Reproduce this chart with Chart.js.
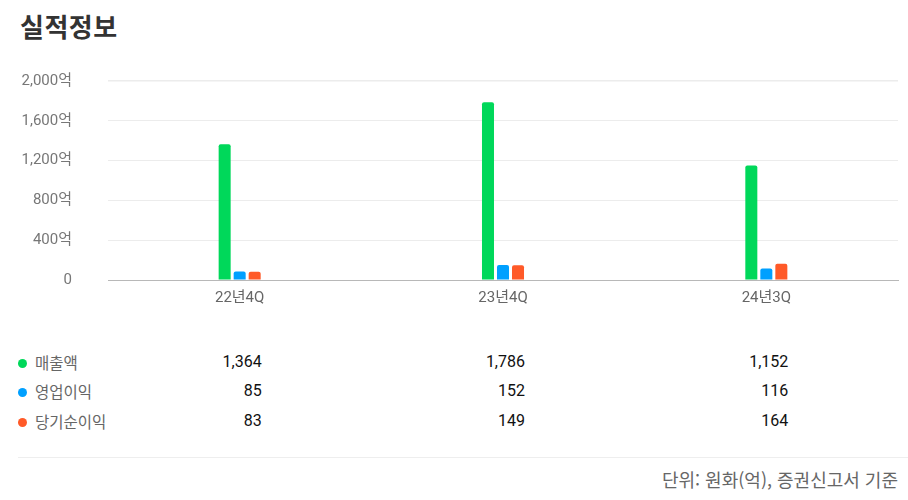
<!DOCTYPE html>
<html lang="ko">
<head>
<meta charset="utf-8">
<title>실적정보</title>
<script src="https://cdn.jsdelivr.net/npm/chart.js@4/dist/chart.umd.min.js"></script>
<style>
  html, body { margin: 0; padding: 0; background: #fff; }
  body { width: 908px; height: 500px; position: relative; overflow: hidden;
         font-family: Roboto, "Noto Sans CJK KR", sans-serif; }
  h1 { position: absolute; left: 20px; top: 7px; margin: 0; font-size: 26px; font-weight: 700;
       color: #333; font-family: "Noto Sans CJK KR", sans-serif; letter-spacing: 0.5px; }
  #wrap { position: absolute; left: 0; top: 60px; width: 908px; height: 260px; }
  .row { position: absolute; left: 0; width: 908px; height: 24px; }
  .row .dot { position: absolute; left: 18px; top: 8px; width: 9px; height: 9px; border-radius: 50%; }
  .row .name { position: absolute; left: 35px; top: 1px; font-size: 15.5px; color: #666;
               font-family: "Noto Sans CJK KR", sans-serif; line-height: 20px; }
  .row .val { position: absolute; top: 1px; font-size: 16px; color: #111; line-height: 20px;
              transform: translateX(-100%); font-family: Roboto, sans-serif; }
  #sep { position: absolute; left: 18px; right: 0; top: 457px; border-top: 1px solid #eee; }
  #note { position: absolute; right: 10px; top: 466px; font-size: 18px; color: #666;
          font-family: "Noto Sans CJK KR", sans-serif; }
</style>
</head>
<body>
<h1>실적정보</h1>
<div id="wrap"><canvas id="chartPerf" width="908" height="260"></canvas></div>
<div id="table"></div>
<div id="sep"></div>
<div id="note">단위: 원화(억), 증권신고서 기준</div>

<script>
// 분기
const periods = ['22년4Q', '23년4Q', '24년3Q'];

// 항목별 값 (억원)
const seriesNames = ['매출액', '영업이익', '당기순이익'];
const revenue = [1364, 1786, 1152];
const operatingProfit = [85, 152, 116];
const netIncome = [83, 149, 164];

const yTicks = [0, 400, 800, 1200, 1600, 2000];

const seriesColors = ['#00d85a', '#00a0ff', '#ff5a28'];
const seriesValues = [revenue, operatingProfit, netIncome];

function formatNumber(v) {
  return v.toLocaleString('en-US');
}

const chartPerf = new Chart(document.getElementById('chartPerf'), {
  type: 'bar',
  data: {
    labels: periods,
    datasets: seriesNames.map((name, i) => ({
      label: name,
      data: seriesValues[i],
      backgroundColor: seriesColors[i],
      borderRadius: { topLeft: 2, topRight: 2 },
      borderSkipped: 'bottom',
      categoryPercentage: 0.171,
      barPercentage: 0.8
    }))
  },
  options: {
    responsive: false,
    animation: false,
    layout: { padding: { top: 21, right: 10, left: 0, bottom: 0 } },
    plugins: {
      legend: { display: false },
      tooltip: { enabled: false }
    },
    scales: {
      x: {
        grid: { display: false, drawTicks: false },
        border: { display: true, color: '#b8b8b8', width: 1 },
        ticks: {
          color: '#666',
          padding: 9,
          font: { family: 'Roboto, "Noto Sans CJK KR"', size: 15 }
        },
        afterFit: scale => { scale.height = 40; }
      },
      y: {
        min: 0,
        max: 2000,
        afterBuildTicks: scale => { scale.ticks = yTicks.map(v => ({ value: v })); },
        grid: {
          drawTicks: true,
          tickLength: 36,
          tickColor: 'rgba(0,0,0,0)',
          color: ctx => ctx.tick && ctx.tick.value === 0 ? '#b8b8b8' : '#ececec',
          lineWidth: ctx => ctx.tick && ctx.tick.value === 2000 ? 1.5 : 1
        },
        border: { display: false },
        ticks: {
          color: '#777',
          padding: 0,
          font: { family: 'Roboto, "Noto Sans CJK KR"', size: 15 },
          callback: v => v === 0 ? '0' : formatNumber(v) + '억'
        },
        afterFit: scale => { scale.width = 108; }
      }
    }
  }
});

// 하단 수치 표
function renderTable() {
  const table = document.getElementById('table');
  const xScale = chartPerf.scales.x;
  const rowTops = [351, 380, 410];
  seriesNames.forEach((name, i) => {
    const row = document.createElement('div');
    row.className = 'row';
    row.style.top = rowTops[i] + 'px';
    let html = `<span class="dot" style="background:${seriesColors[i]}"></span>` +
               `<span class="name">${name}</span>`;
    seriesValues[i].forEach((v, j) => {
      const right = xScale.getPixelForValue(j) + 22;
      html += `<span class="val" style="left:${right}px">${formatNumber(v)}</span>`;
    });
    row.innerHTML = html;
    table.appendChild(row);
  });
}

renderTable();
</script>
</body>
</html>
